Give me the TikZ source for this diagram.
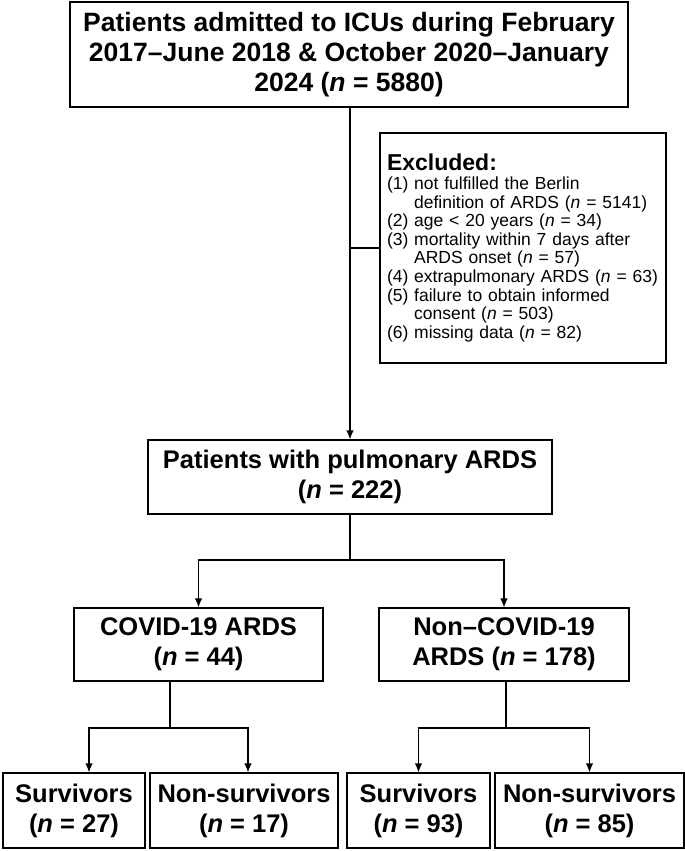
\documentclass[tikz,border=0pt]{standalone}
\usepackage{fontspec}
\setmainfont{Liberation Sans}
\usetikzlibrary{arrows.meta, positioning}

\tikzset{
	box/.style = {draw, line width=1.2pt, align=center, inner sep=0pt,
		font=\fontsize{25.5}{30}\selectfont\bfseries},
	flow/.style = {line width=1.2pt, -{Latex[length=9pt, width=7.5pt]}}
}

\begin{document}
\begin{tikzpicture}[x=1pt, y=-1pt]
		
		\useasboundingbox (0,0) rectangle (685,851);
		
		\node (all) [box, minimum width=558pt, minimum height=105pt,
			font=\fontsize{26.5}{30}\selectfont\bfseries] at (349,54.5)
			{Patients admitted to ICUs during February\\2017--June 2018 \& October 2020--January\\2024 (\textit{n} = 5880)};
		
		\node (excl) [box, minimum width=286pt, minimum height=230pt, align=left,
			text width=272pt, font=\fontsize{17.5}{18.6}\selectfont\mdseries] at (523,248)
			{{\fontsize{23}{26}\selectfont\bfseries Excluded:}\\
			(1) not fulfilled the Berlin\\
			\hspace*{1.55em}definition of ARDS (\textit{n} = 5141)\\
			(2) age \textless{} 20 years (\textit{n} = 34)\\
			(3) mortality within 7 days after\\
			\hspace*{1.55em}ARDS onset (\textit{n} = 57)\\
			(4) extrapulmonary ARDS (\textit{n} = 63)\\
			(5) failure to obtain informed\\
			\hspace*{1.55em}consent (\textit{n} = 503)\\
			(6) missing data (\textit{n} = 82)};
		
		\node (pulm) [box, minimum width=404pt, minimum height=74pt] at (350,477)
			{Patients with pulmonary ARDS\\(\textit{n} = 222)};
		
		\node (covid) [box, minimum width=249pt, minimum height=73pt] at (198.5,644.5)
			{COVID-19 ARDS\\(\textit{n} = 44)};
		\node (noncovid) [box, minimum width=250pt, minimum height=73pt] at (504,644.5)
			{Non--COVID-19\\ARDS (\textit{n} = 178)};
		
		\node (csurv) [box, minimum width=142pt, minimum height=75pt] at (74,810.5)
			{Survivors\\(\textit{n} = 27)};
		\node (cnon) [box, minimum width=188pt, minimum height=75pt] at (244,810.5)
			{Non-survivors\\(\textit{n} = 17)};
		\node (nsurv) [box, minimum width=143pt, minimum height=75pt] at (418.5,810.5)
			{Survivors\\(\textit{n} = 93)};
		\node (nnon) [box, minimum width=189pt, minimum height=75pt] at (589.5,810.5)
			{Non-survivors\\(\textit{n} = 85)};
		
		\coordinate (split) at (350,560);
		\coordinate (csplit) at (170,728);
		\coordinate (nsplit) at (506,728);
		
		\draw [flow] (all.south -| pulm.north) -- (pulm.north);
		\draw [line width=1.2pt] (pulm.north |- excl.west) -- (excl.west);
		
		\draw [line width=1.2pt] (pulm.south) -- (split);
		\draw [flow] (split) -| (covid.north);
		\draw [flow] (split) -| (noncovid.north);
		
		\draw [line width=1.2pt] (covid.south -| csplit) -- (csplit);
		\draw [flow] (csplit) -| ([xshift=15pt]csurv.north);
		\draw [flow] (csplit) -| ([xshift=4pt]cnon.north);
		
		\draw [line width=1.2pt] (noncovid.south -| nsplit) -- (nsplit);
		\draw [flow] (nsplit) -| (nsurv.north);
		\draw [flow] (nsplit) -| (nnon.north);
		
\end{tikzpicture}
\end{document}
